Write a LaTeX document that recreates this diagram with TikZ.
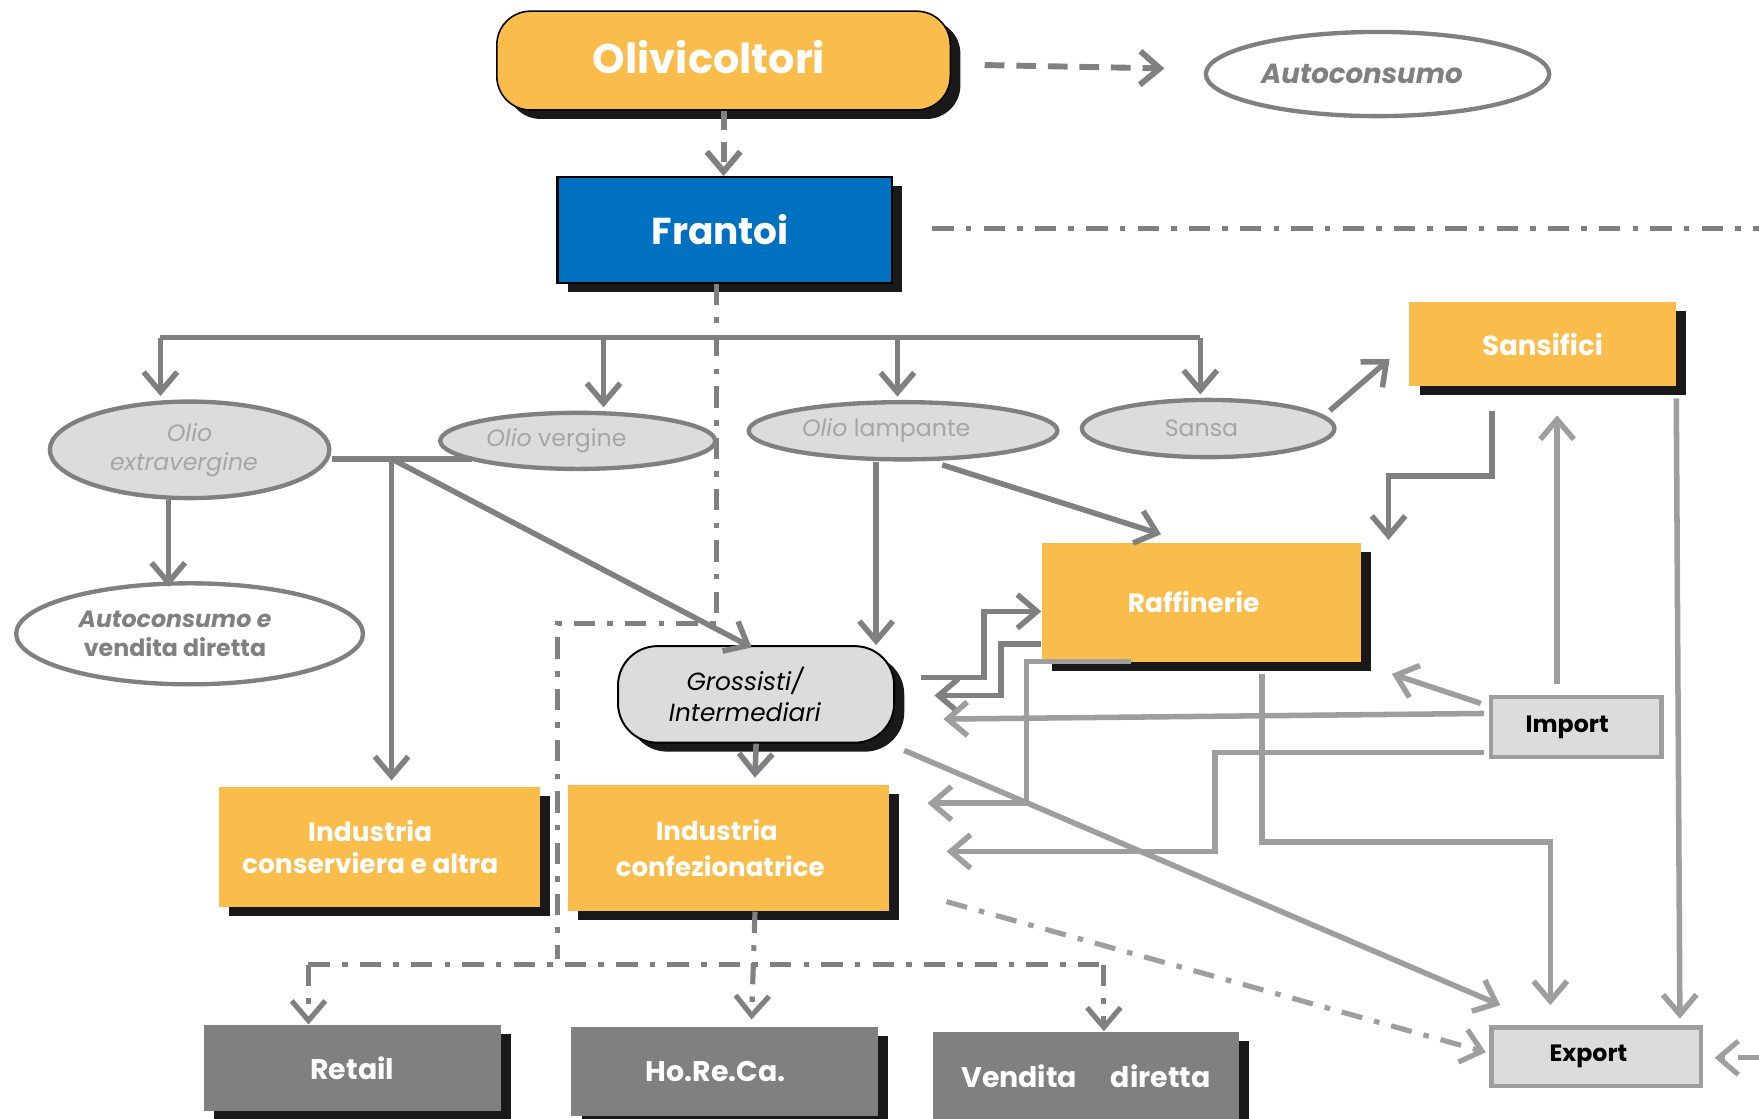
\documentclass[tikz,border=0pt]{standalone}
\usepackage{fontspec}
\setmainfont{Poppins}
\usetikzlibrary{shapes.geometric,arrows.meta,shadows,calc}
\definecolor{orangebox}{RGB}{250,188,75}
\definecolor{bluebox}{RGB}{0,112,192}
\definecolor{lightfill}{RGB}{220,220,220}
\definecolor{darkline}{RGB}{128,128,128}
\definecolor{lightline}{RGB}{158,158,158}
\definecolor{oliotext}{RGB}{166,166,166}

\begin{document}
\begin{tikzpicture}[
    x=0.01cm, y=-0.01cm,
    >={Straight Barb[length=5pt,width=8.5pt]},
    shadowed/.style={
      drop shadow={shadow xshift=0.09cm, shadow yshift=-0.08cm, fill=black, opacity=0.9}
    },
    block/.style={
      rectangle,
      fill=orangebox,
      text=white,
      align=center,
      inner sep=0pt,
      shadowed,
      font=\bfseries\fontsize{6.7}{8.3}\selectfont
    },
    outlet/.style={block, fill=darkline, font=\bfseries\fontsize{7.2}{9}\selectfont},
    trade/.style={
      rectangle,
      draw=lightline,
      line width=1.1pt,
      fill=lightfill,
      text=black,
      inner sep=0pt,
      font=\bfseries\fontsize{6}{7}\selectfont
    },
    oil/.style={
      ellipse,
      draw=darkline,
      line width=1.1pt,
      fill=lightfill,
      text=oliotext,
      inner sep=0pt,
      align=center,
      font=\fontsize{6}{7.4}\selectfont
    },
    selfuse/.style={oil, fill=white, text=darkline, font=\bfseries\fontsize{6}{7.4}\selectfont},
    link/.style={darkline, line width=1.4pt},
    flow/.style={link, ->},
    dashflow/.style={link, line width=1.5pt, dash pattern=on 5pt off 3pt, ->},
    dotline/.style={link, line width=1.3pt, dash pattern=on 5.4pt off 3.1pt on 1.4pt off 3.1pt}
  ]

    \useasboundingbox (0,0) rectangle (1568,997);
    \fill[white] (0,0) rectangle (1568,997);

    % growers and mills
    \node[block, rounded corners=0.3cm, draw=black, line width=0.4pt,
      minimum width=4.04cm, minimum height=0.88cm,
      font=\bfseries\fontsize{10.5}{12}\selectfont] (oliv) at (645,54) {\raisebox{0.06cm}{Olivicoltori}\hspace*{0.26cm}};
    \node[selfuse, minimum width=3.06cm, minimum height=0.75cm,
      font=\bfseries\itshape\fontsize{7}{8}\selectfont] (autoc) at (1228,66) {Autoconsumo\hspace*{0.28cm}};
    \node[block, fill=bluebox, draw=black, line width=0.6pt,
      minimum width=2.98cm, minimum height=0.94cm,
      font=\bfseries\fontsize{9.5}{11}\selectfont] (fran) at (646,205) {Frantoi\hspace*{0.08cm}};

    % kinds of oil
    \node[oil, minimum width=2.49cm, minimum height=0.86cm,
      font=\itshape\fontsize{6}{7.4}\selectfont] (extra) at (169,401) {Olio\\extravergine\hspace*{0.1cm}};
    \node[oil, minimum width=2.45cm, minimum height=0.5cm] (verg) at (515,393) {{\itshape Olio} vergine\hspace*{0.38cm}};
    \node[oil, minimum width=2.75cm, minimum height=0.51cm] (lamp) at (805,384) {{\itshape Olio} lampante\hspace*{0.3cm}};
    \node[oil, minimum width=2.25cm, minimum height=0.51cm] (sansa) at (1077,382) {Sansa\hspace*{0.12cm}};
    \node[selfuse, minimum width=3.09cm, minimum height=0.9cm] (autov) at (169,565)
      {\textit{Autoconsumo e}\hspace*{0.26cm}\\vendita diretta\hspace*{0.26cm}};

    % industry
    \node[block, minimum width=2.37cm, minimum height=0.75cm,
      font=\bfseries\fontsize{7}{8}\selectfont] (sansif) at (1375,307) {Sansifici};
    \node[block, minimum width=2.84cm, minimum height=1.06cm] (raff) at (1071,537) {\raisebox{-0.04cm}{Raffinerie}\hspace*{0.14cm}};
    \node[block, minimum width=2.86cm, minimum height=1.07cm] (indcons) at (338,755)
      {Industria\hspace*{0.16cm}\\conserviera e altra\hspace*{0.16cm}};
    \node[block, minimum width=2.86cm, minimum height=1.12cm,
      font=\bfseries\fontsize{6.6}{9}\selectfont] (indconf) at (649,756)
      {Industria\hspace*{0.2cm}\\confezionatrice\hspace*{0.14cm}};
    \node[rectangle, rounded corners=0.35cm, draw=black, line width=0.5pt, fill=lightfill, shadowed,
      minimum width=2.46cm, minimum height=0.86cm, inner sep=0pt, align=center,
      font=\itshape\fontsize{6.3}{7.7}\selectfont] (gross) at (674,619) {Grossisti/\hspace*{0.2cm}\\Intermediari\hspace*{0.2cm}};

    % trade
    \node[trade, minimum width=1.52cm, minimum height=0.53cm] (import) at (1405,648) {Import\hspace*{0.16cm}};
    \node[trade, minimum width=1.87cm, minimum height=0.52cm] (export) at (1423,942) {Export\hspace*{0.14cm}};

    % sales
    \node[outlet, minimum width=2.65cm, minimum height=0.76cm] (retail) at (314,952) {Retail};
    \node[outlet, minimum width=2.73cm, minimum height=0.79cm] (horeca) at (646,955) {\raisebox{-0.06cm}{Ho.Re.Ca.}\hspace*{0.16cm}};
    \node[outlet, minimum width=2.73cm, minimum height=0.78cm] (vendita) at (968,959) {Vendita\hspace{0.3cm}diretta};

    % dashed lines from the top
    \draw[dashflow] (oliv.south) -- (oliv.south |- fran.north);
    \draw[dashflow] ($(oliv.east)+(30,4)$) -- ($(autoc.west)+(-35,-5)$);
    \coordinate (edgeR) at (1568,204);
    \draw[dotline] ($(fran.east)+(35,-1)$) -- (edgeR);
    \coordinate (down) at (497,855);
    \draw[dotline] ($(fran.south)+(-7,0)$) -- ++(0,303) -| (down);

    % split of the oil
    \draw[link] (143,301) -- (1070,301);
    \foreach \x/\n in {143/extra, 538/verg, 800/lamp, 1070/sansa}{
      \coordinate (top) at (\x,301);
      \draw[flow] (top) -- ($(top |- \n.north)+(0,-3)$);
    }
    \draw[flow] ($(extra.south)+(-19,0)$) -- ($(autov.north)+(-19,5)$);
    \coordinate (j1) at (349,409);
    \draw[link] ($(extra.east)+(0,8)$) -- ($(verg.center)+(-94,16)$);
    \draw[flow] (j1) -- ($(j1 |- indcons.north)+(0,-5)$);
    \draw[flow] (j1) -- ($(gross.north)+(-4,2)$);
    \coordinate (l1) at ($(lamp.south)+(-24,0)$);
    \draw[flow] (l1) -- (l1 |- gross.north);
    \draw[flow] ($(lamp.south)+(35,3)$) -- ($(raff.north)+(-36,-7)$);
    \draw[flow] ($(sansa.east)+(-6,-16)$) -- ($(sansif.west)+(-17,13)$);
    \draw[flow] ($(sansif.south)+(-45,21)$) -- ++(0,58) -| ($(raff.north east)+(24,-2)$);

    % grossisti and raffinerie
    \draw[flow] ($(gross.east)+(23,-15)$) -- ++(56,0) |- ($(raff.west)+(0,8)$);
    \draw[flow] ($(raff.west)+(0,37)$) -- ++(-36,0) |- ($(gross.east)+(35,1)$);
    \draw[flow] (gross.south) -- ($(indconf.north)+(24,-6)$);
    \draw[flow, lightline] ($(raff.south)+(-63,-1)$) -- ++(-93,0) |- ($(indconf.east)+(34,-40)$);

    % import and export
    \draw[flow, lightline] ($(import.north)+(-17,-10)$) -- ($(sansif.south)+(13,25)$);
    \draw[flow, lightline] ($(import.west)+(-7,-21)$) -- ($(raff.south east)+(27,10)$);
    \draw[flow, lightline] ($(import.west)+(-4,-12)$) -- ($(gross.east)+(43,22)$);
    \draw[flow, lightline] ($(import.west)+(-4,23)$) -- ++(-240,0) |- ($(indconf.east)+(51,3)$);
    \draw[flow, lightline] ($(sansif.south east)+(0,10)$) -- ($(export.north east)+(-21,-6)$);
    \draw[flow, lightline] ($(raff.south)+(54,10)$) -- ++(0,150) -| ($(export.north)+(-41,-18)$);
    \draw[flow, lightline] ($(gross.south east)+(8,6)$) -- ($(export.north west)+(10,-18)$);
    \draw[dotline, lightline, ->] ($(indconf.south east)+(51,-9)$) -- ($(export.west)+(-3,-4)$);
    \coordinate (edgeE) at (1568,943);
    \draw[dotline, lightline, ->] (edgeE) -- ($(export.east)+(10,1)$);

    % sales channels
    \coordinate (bl) at (275,860);
    \coordinate (br) at (984,860);
    \draw[dotline] (bl) -- (br);
    \draw[dotline, ->] (bl) -- (bl |- retail.north);
    \draw[dotline, ->] (br) -- (br |- vendita.north);
    \draw[dotline, ->] ($(indconf.south)+(24,0)$) -- ($(horeca.north)+(24,-6)$);
  \end{tikzpicture}
\end{document}
